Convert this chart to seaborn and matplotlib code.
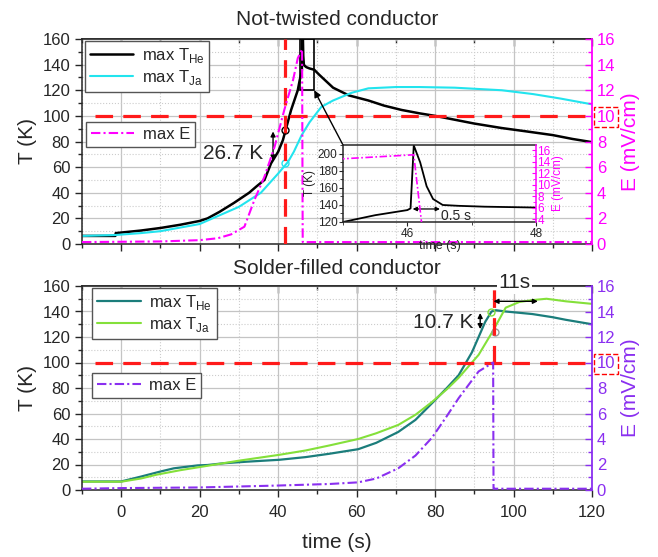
import numpy as np
import pandas as pd
import matplotlib
matplotlib.use("Agg")
import matplotlib.pyplot as plt
import seaborn as sns
from matplotlib.patches import Rectangle
from matplotlib.ticker import MultipleLocator

# ---------------- data : not-twisted conductor ----------------
t_he_top = [-10, -1.5, -1.4, 5, 10, 15, 20, 22, 25, 28.7, 32.6, 34.5, 36.5, 38.2, 40, 41.2,
            43.3, 45, 45.5, 46.0, 46.05, 46.1, 46.2, 46.3, 46.4, 46.55, 46.8, 47.2, 48, 49.2,
            50.5, 54, 58, 63, 67, 71.5, 76, 80, 85, 90, 97, 103, 110, 115, 120]
T_he_top = [6.3, 6.3, 8.5, 10.5, 12.5, 15, 18, 20, 25, 32, 40, 45, 50, 63, 72, 81,
            104.6, 120, 128, 134, 136, 210, 190, 162, 147, 140, 139, 138, 137, 136,
            132, 122, 116, 112, 108, 104.6, 102, 100, 97, 94, 90.5, 88, 85, 82, 79.5]

t_ja_top = [-10, -1.5, 5, 10, 20, 30, 35.6, 40, 42.5, 44, 46, 48, 51, 54, 58.7, 63, 70, 76,
            85, 97, 105, 112, 120]
T_ja_top = [6.3, 7, 8.5, 10, 15.6, 29, 40, 55, 64, 72, 85, 95, 107, 112, 118, 121.5, 122.5,
            122.5, 122, 120, 117, 113.5, 109]

t_e_top = [-10, 10, 20, 24.6, 28, 31.4, 33.9, 36.5, 39.1, 41.6, 43.8, 45, 46.1, 46.22, 46.26, 120]
E_top = [0.15, 0.2, 0.3, 0.45, 0.75, 1.35, 3.4, 5.25, 7.6, 10.5, 12.8, 14.5, 15.2, 3.5, 0.15, 0.15]

# ---------------- data : solder-filled conductor ----------------
t_he_bot = [-10, 0, 5, 10, 13.4, 19.5, 22, 26.2, 32, 40.3, 47, 53, 60.4, 65, 70.6, 75, 79.2,
            83, 86, 89.4, 92.8, 94.4, 95.5, 98, 104.8, 110, 113.3, 120]
T_he_bot = [6.7, 6.7, 10.5, 14.5, 17, 19.3, 19.6, 21, 22.2, 23.7, 25.8, 28.4, 32, 37, 45.5,
            55, 68, 80, 90, 108, 132, 140, 141, 140, 138, 135.5, 133.5, 130]

t_ja_bot = [-10, 0, 5, 9, 15, 20, 30, 40.3, 47, 53, 60.4, 65, 70.6, 75, 79.2, 83, 86, 91.1,
            94.6, 98, 101.5, 105, 108.4, 113.3, 120]
T_ja_bot = [6.5, 6.5, 9, 12, 15.5, 18, 23, 27.6, 31, 34.9, 40, 44.5, 51, 59, 69, 79, 88, 106,
            124, 143, 147.5, 149, 150, 148, 146]

t_e_bot = [-10, 0, 20, 40, 53, 60.4, 65, 70.6, 75, 79.2, 83, 86, 91.1, 94.8, 94.9, 95.2, 120]
E_bot = [0.1, 0.15, 0.2, 0.35, 0.47, 0.6, 0.9, 1.7, 2.7, 4.1, 5.8, 7.2, 9.3, 10, 0.1, 0.1, 0.1]

# thresholds / annotations
T_thr = 100
t_quench_top = 41.7
t_quench_bot = 94.9
dT_top = (38.7, 63, 90)      # x, T low, T high
dT_bot = (91.5, 124, 141)
dt_bot = (94.9, 106.2, 148)  # t start, t end, T
zoom_box = (45.5, 120, 49.2, 160)

sns.set_style("white")
plt.rcParams['font.family'] = ['Liberation Sans', 'DejaVu Sans']
plt.rcParams['mathtext.fontset'] = 'custom'
plt.rcParams['mathtext.rm'] = 'Liberation Sans'
plt.rcParams['axes.linewidth'] = 1.1

magenta = '#ff00ff'
purple = '#8a2ff0'
red = '#ff1a1a'
dashdot = (0, (4.5, 1.5, 1, 1.5))

fig = plt.figure(figsize=(6.58, 5.57), dpi=100)
ax1 = fig.add_axes([82/658, 1-244/557, 510/658, 205/557])
ax3 = fig.add_axes([82/658, 1-490/557, 510/658, 204/557])


def style(ax, axr, ecolor, show_xlabels):
    ax.set_xlim(-10, 120)
    ax.set_ylim(0, 160)
    axr.set_ylim(0, 16)
    ax.xaxis.set_major_locator(MultipleLocator(20))
    ax.xaxis.set_minor_locator(MultipleLocator(10))
    ax.yaxis.set_major_locator(MultipleLocator(20))
    ax.yaxis.set_minor_locator(MultipleLocator(10))
    ax.set_axisbelow(True)
    ax.grid(which='major', color='#c4c4c4', lw=0.9)
    ax.grid(which='minor', color='#cccccc', ls=':', lw=0.8)
    ax.tick_params(which='both', direction='out', labelsize=12, bottom=True, left=True,
                   width=1, labelbottom=show_xlabels)
    ax.tick_params(axis='x', pad=6)
    ax.tick_params(which='major', length=5)
    ax.tick_params(which='minor', length=3)
    sec = ax.secondary_xaxis('top')
    sec.xaxis.set_major_locator(MultipleLocator(20))
    sec.xaxis.set_minor_locator(MultipleLocator(10))
    sec.tick_params(which='both', direction='in', labeltop=False, width=1)
    sec.tick_params(which='major', length=5)
    sec.tick_params(which='minor', length=3)
    ax.spines['right'].set_visible(False)
    ax.set_ylabel('T (K)', fontsize=15)

    for s in ['left', 'top', 'bottom']:
        axr.spines[s].set_visible(False)
    axr.spines['right'].set_color(ecolor)
    axr.spines['right'].set_linewidth(1.3)
    axr.set_yticks(np.arange(0, 17, 2), [str(v) for v in range(0, 17, 2)])
    axr.yaxis.set_minor_locator(MultipleLocator(1))
    axr.tick_params(which='both', direction='in', colors=ecolor, labelsize=12, right=True, width=1)
    axr.tick_params(which='major', length=5)
    axr.tick_params(which='minor', length=3)
    axr.set_ylabel('E (mV/cm)', fontsize=15, color=ecolor)
    axr.grid(False)


# ================= top panel =================
ax1r = ax1.twinx()
ax1r.set_position(ax1.get_position())
sns.lineplot(x=t_he_top, y=T_he_top, ax=ax1, color='black', lw=1.8, estimator=None, sort=False)
sns.lineplot(x=t_ja_top, y=T_ja_top, ax=ax1, color='#22e4ee', lw=1.5, estimator=None, sort=False)
sns.lineplot(x=t_e_top, y=E_top, ax=ax1r, color=magenta, lw=1.5, estimator=None, sort=False,
             linestyle=dashdot)
h_he, h_ja = ax1.lines[0], ax1.lines[1]
h_e = ax1r.lines[0]
ax1.hlines(T_thr, -6.7, 120, color=red, lw=2.3, linestyles=[(0, (5.5, 3.2))], zorder=3)
ax1.vlines(t_quench_top, 0, 160, color=red, lw=2.3, linestyles=[(0, (5.5, 3.2))], zorder=3)
style(ax1, ax1r, magenta, False)
ax1.set_title('Not-twisted conductor', fontsize=15, pad=10)

ax1.annotate('', xy=(dT_top[0], dT_top[2]), xytext=(dT_top[0], dT_top[1]),
             arrowprops=dict(arrowstyle='<|-|>', color='black', lw=1, mutation_scale=7))
ax1.text(28.5, 71, '26.7 K', fontsize=15, ha='center', va='center')
ax1.plot([t_quench_top], [89], marker='o', ms=5, mfc='none', mec='black', mew=1)
ax1.plot([t_quench_top], [63.5], marker='o', ms=5, mfc='none', mec='#22e4ee', mew=1)
ax1.add_patch(Rectangle((zoom_box[0], zoom_box[1]), zoom_box[2]-zoom_box[0],
                        zoom_box[3]-zoom_box[1], fill=False, ec='black', lw=1.2, zorder=4))

leg1 = ax1.legend([h_he, h_ja], ['max T$_\\mathregular{He}$', 'max T$_\\mathregular{Ja}$'],
                  loc='upper left', bbox_to_anchor=(0.006, 0.99), fontsize=12, fancybox=False,
                  edgecolor='#555555', framealpha=1, handlelength=2.6, borderpad=0.3,
                  labelspacing=0.15, handletextpad=0.5, borderaxespad=0)
ax1.add_artist(leg1)
ax1.legend([h_e], ['max E'], loc='upper left', bbox_to_anchor=(0.008, 0.595), fontsize=12,
           fancybox=False, edgecolor='#555555', framealpha=1, handlelength=2.6, borderpad=0.3,
           handletextpad=0.5, borderaxespad=0)

# ---- inset ----
axi = fig.add_axes([343/658, 1-222/557, 193/658, 77/557])
axi.patch.set_alpha(0)
axir = axi.twinx()
axir.set_position(axi.get_position())
sns.lineplot(x=t_he_top, y=T_he_top, ax=axi, color='black', lw=1.3, estimator=None, sort=False)
sns.lineplot(x=t_e_top, y=E_top, ax=axir, color=magenta, lw=1.2, estimator=None, sort=False,
             linestyle=dashdot)
axi.set_xlim(45, 48)
axi.set_ylim(120, 210.5)
axir.set_ylim(3.5, 16.9)
axi.set_xticks([46, 48])
axi.xaxis.set_minor_locator(MultipleLocator(1))
axi.set_yticks([120, 140, 160, 180, 200])
axi.yaxis.set_minor_locator(MultipleLocator(10))
axi.tick_params(which='both', direction='out', labelsize=8.5, bottom=True, left=True, pad=1)
axi.tick_params(which='major', length=3)
axi.tick_params(which='minor', length=2)
axi.grid(False)
axi.spines['right'].set_visible(False)
axi.set_ylabel('T (K)', fontsize=8.5, labelpad=1)
axi.set_xlabel('time (s)', fontsize=9, labelpad=0)
for s in ['left', 'top', 'bottom']:
    axir.spines[s].set_visible(False)
axir.spines['right'].set_color(magenta)
axir.set_yticks(np.arange(4, 17, 2))
axir.yaxis.set_minor_locator(MultipleLocator(1))
axir.tick_params(which='both', direction='in', colors=magenta, labelsize=8.5, pad=1)
axir.tick_params(which='major', length=3)
axir.tick_params(which='minor', length=2)
axir.set_ylabel('E (mV/cm)', fontsize=8.5, color=magenta, labelpad=1)
axir.grid(False)
axi.annotate('', xy=(46.55, 135.3), xytext=(46.04, 135.3),
             arrowprops=dict(arrowstyle='<|-|>', color='black', lw=0.9, mutation_scale=6))
axi.text(46.76, 127, '0.5 s', fontsize=10, ha='center', va='center')

ax1.annotate('', xy=(zoom_box[2], zoom_box[1]), xycoords='data', xytext=(0, 1),
             textcoords=axi.transAxes,
             arrowprops=dict(arrowstyle='-|>', color='black', lw=1, mutation_scale=10,
                             shrinkA=0, shrinkB=0))

# ================= bottom panel =================
ax3r = ax3.twinx()
ax3r.set_position(ax3.get_position())
sns.lineplot(x=t_he_bot, y=T_he_bot, ax=ax3, color='#1b7d7b', lw=1.6, estimator=None, sort=False)
sns.lineplot(x=t_ja_bot, y=T_ja_bot, ax=ax3, color='#84e03a', lw=1.5, estimator=None, sort=False)
sns.lineplot(x=t_e_bot, y=E_bot, ax=ax3r, color=purple, lw=1.5, estimator=None, sort=False,
             linestyle=dashdot)
g_he, g_ja = ax3.lines[0], ax3.lines[1]
g_e = ax3r.lines[0]
ax3.hlines(T_thr, -6.7, 120, color=red, lw=2.3, linestyles=[(0, (5.5, 3.2))], zorder=3)
ax3.vlines(t_quench_bot, T_thr, 160, color=red, lw=2.3, linestyles=[(0, (5.5, 3.2))], zorder=3)
style(ax3, ax3r, purple, True)
ax3.set_title('Solder-filled conductor', fontsize=15, pad=8.6)
ax3.set_xlabel('time (s)', fontsize=15, labelpad=9)

ax3.annotate('', xy=(dT_bot[0], dT_bot[2]), xytext=(dT_bot[0], dT_bot[1]),
             arrowprops=dict(arrowstyle='<|-|>', color='black', lw=1, mutation_scale=7))
ax3.text(82, 131, '10.7 K', fontsize=15, ha='center', va='center')
ax3.annotate('', xy=(dt_bot[1], dt_bot[2]), xytext=(dt_bot[0], dt_bot[2]),
             arrowprops=dict(arrowstyle='<|-|>', color='black', lw=1, mutation_scale=7,
                             shrinkA=0, shrinkB=0))
ax3.text(100.3, 162.5, '11s', fontsize=15, ha='center', va='center', zorder=6, clip_on=False,
         bbox=dict(fc='white', ec='none', pad=1))
ax3.plot([94.3], [139.5], marker='o', ms=5, mfc='none', mec='#84e03a', mew=1)
ax3.plot([95.3], [124], marker='o', ms=5, mfc='none', mec='#999999', mew=1)

leg3 = ax3.legend([g_he, g_ja], ['max T$_\\mathregular{He}$', 'max T$_\\mathregular{Ja}$'],
                  loc='upper left', bbox_to_anchor=(0.02, 0.99), fontsize=12, fancybox=False,
                  edgecolor='#555555', framealpha=1, handlelength=2.6, borderpad=0.3,
                  labelspacing=0.15, handletextpad=0.5, borderaxespad=0)
ax3.add_artist(leg3)
ax3.legend([g_e], ['max E'], loc='upper left', bbox_to_anchor=(0.02, 0.574), fontsize=12,
           fancybox=False, edgecolor='#555555', framealpha=1, handlelength=2.6, borderpad=0.3,
           handletextpad=0.5, borderaxespad=0)

# dashed red box round the "10" label on both E axes
fig.canvas.draw()
for axr in (ax1r, ax3r):
    for lab in axr.get_yticklabels():
        if lab.get_text() == '10':
            lab.set_bbox(dict(boxstyle='square,pad=0.15', fc='none', ec='#ff0000',
                              ls='--', lw=1))

fig.savefig('out.png', dpi=100)
